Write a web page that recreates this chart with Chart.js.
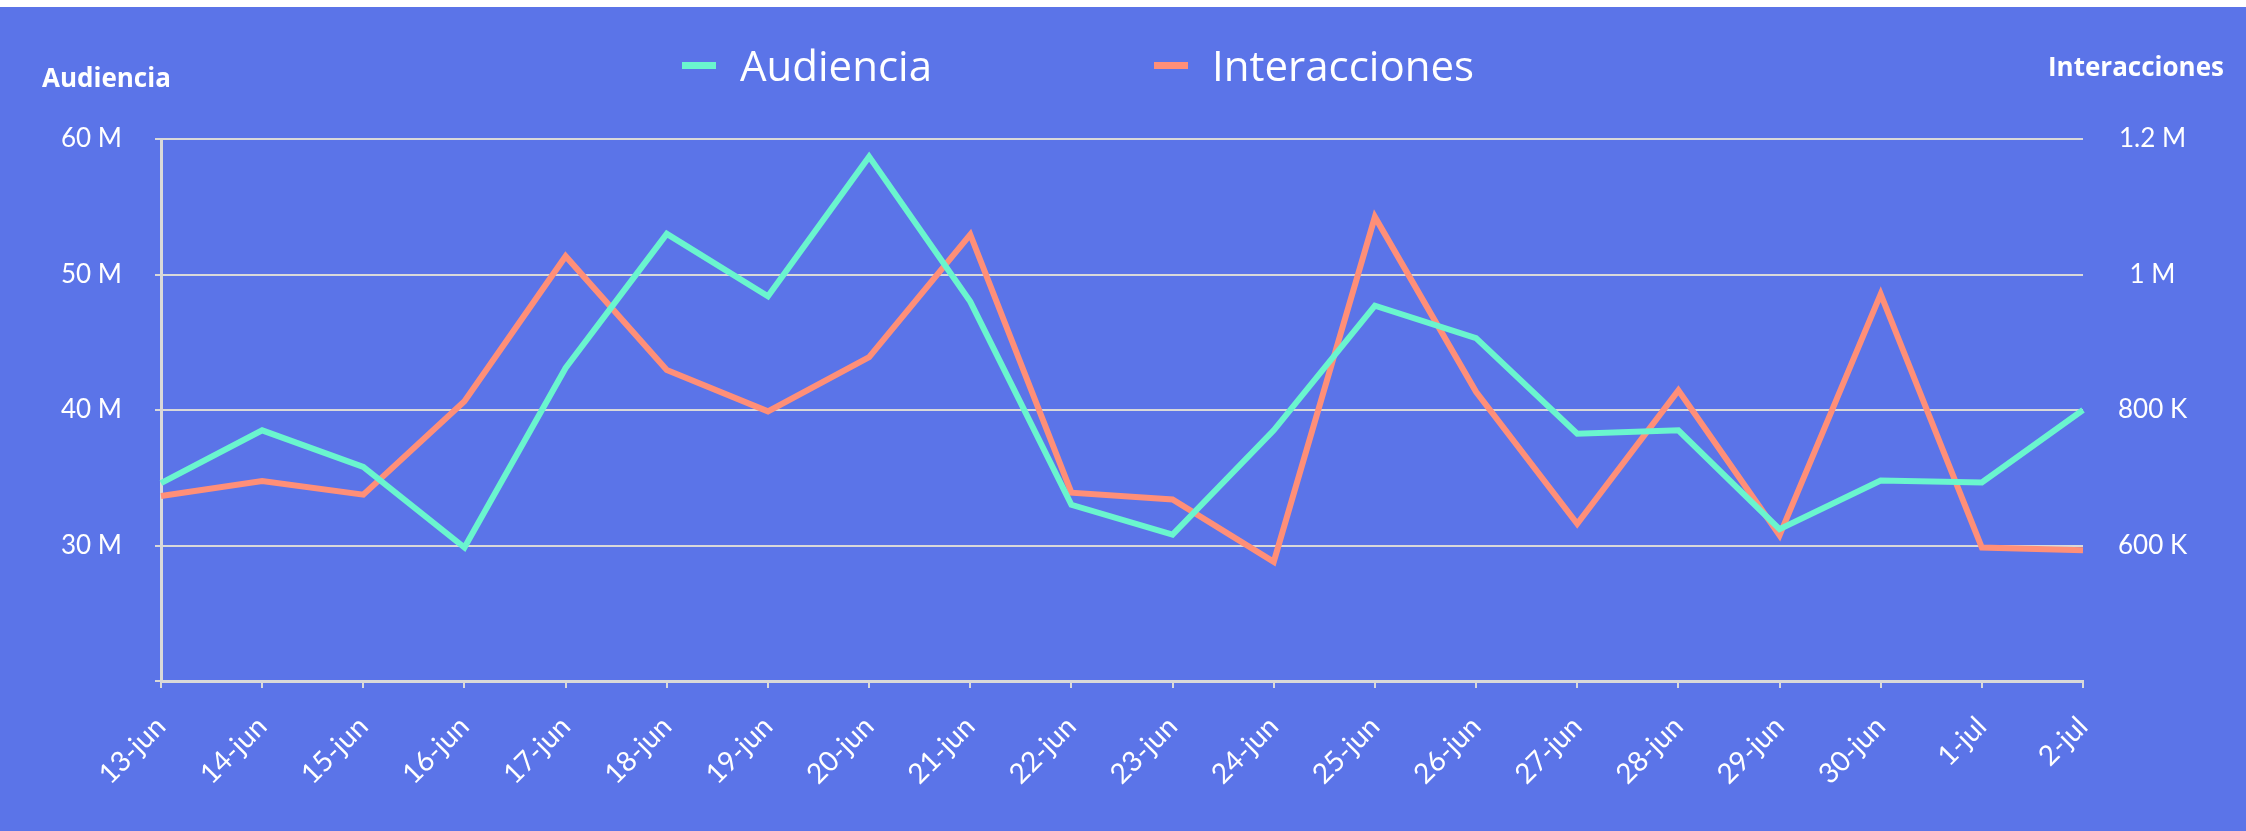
<!DOCTYPE html>
<html>
<head>
<meta charset="utf-8">
<script src="https://cdn.jsdelivr.net/npm/chart.js@4"></script>
<style>
  body { margin: 0; background: #fff; }
  #wrap { position: absolute; left: 0; top: 7px; width: 2246px; height: 824px; background: #5b74e8; overflow: hidden; }
  #chart { position: absolute; left: 0; top: 0; }
  .axis-title { position: absolute; color: #fff; font: 700 26px/26px "Open Sans", sans-serif; }
  #legend { position: absolute; left: 682px; top: 37px; display: flex; align-items: center; color: #fff; font: 400 42px/42px "Open Sans", sans-serif; }
  #legend .item { display: flex; align-items: center; margin-right: 222px; }
  #legend .sw { width: 34px; height: 7px; margin-right: 24px; }
</style>
</head>
<body>
<div id="wrap">
  <canvas id="chart" width="2246" height="824"></canvas>
  <div class="axis-title" style="left:42px; top:57px;">Audiencia</div>
  <div class="axis-title" style="right:22px; top:46px;">Interacciones</div>
  <div id="legend"></div>
</div>
<script>
// fechas del eje x
const labels = ['13-jun','14-jun','15-jun','16-jun','17-jun','18-jun','19-jun','20-jun','21-jun','22-jun',
  '23-jun','24-jun','25-jun','26-jun','27-jun','28-jun','29-jun','30-jun','1-jul','2-jul'];

// audiencia en millones
const audienciaM = [34.6, 38.5, 35.8, 29.85, 43.1, 53.0, 48.4, 58.7, 48.0, 33.0,
  30.8, 38.5, 47.7, 45.3, 38.25, 38.5, 31.2, 34.8, 34.65, 40.0];

// interacciones en miles
const interaccionesK = [673, 695, 675, 813, 1027, 859, 798, 878, 1059, 678,
  668, 576, 1085, 827, 632, 829, 615, 971, 597, 593];

const seriesNames = ['Audiencia', 'Interacciones'];
const seriesColors = ['#6af5ce', '#ff8f78'];

const GRID = '#d9d9d9';
const tickFont = { family: 'Lato', size: 26 };

// legend in html (wide spacing between items)
const legendEl = document.getElementById('legend');
seriesNames.forEach((name, i) => {
  const item = document.createElement('div');
  item.className = 'item';
  item.innerHTML = `<span class="sw" style="background:${seriesColors[i]}"></span><span>${name}</span>`;
  legendEl.appendChild(item);
});

const ctx = document.getElementById('chart').getContext('2d');
new Chart(ctx, {
  type: 'line',
  data: {
    labels,
    datasets: [
      { label: seriesNames[0], data: audienciaM, yAxisID: 'y', borderColor: seriesColors[0], backgroundColor: seriesColors[0],
        borderWidth: 6, pointRadius: 0, tension: 0, borderJoinStyle: 'miter' },
      { label: seriesNames[1], data: interaccionesK, yAxisID: 'y1', borderColor: seriesColors[1], backgroundColor: seriesColors[1],
        borderWidth: 6, pointRadius: 0, tension: 0, borderJoinStyle: 'miter' }
    ]
  },
  options: {
    responsive: false,
    animation: false,
    devicePixelRatio: 1,
    layout: { padding: { top: 132, left: 0, right: 0, bottom: 0 } },
    plugins: { legend: { display: false }, tooltip: { enabled: false } },
    scales: {
      x: {
        grid: { drawOnChartArea: false, drawTicks: true, tickLength: 7, color: GRID, lineWidth: 2 },
        border: { color: GRID, width: 3 },
        ticks: { color: '#fff', font: { family: 'Lato', size: 28 }, minRotation: 45, maxRotation: 45, autoSkip: false, padding: 22 },
        afterFit: s => { s.height = 150; }
      },
      y: {
        position: 'left', min: 20, max: 60,
        grid: { color: GRID, lineWidth: 2, tickLength: 6 },
        border: { color: GRID, width: 3 },
        ticks: { stepSize: 10, color: '#fff', font: tickFont, padding: 33,
          callback: v => v === 20 ? '' : v + ' M' },
        afterFit: s => { s.width = 161; }
      },
      y1: {
        position: 'right', min: 400, max: 1200,
        grid: { display: false },
        border: { display: false },
        ticks: { stepSize: 200, color: '#fff', font: tickFont, padding: 27, crossAlign: 'center',
          callback: v => v === 400 ? '' : (v >= 1000 ? (v / 1000) + ' M' : v + ' K') },
        afterFit: s => { s.width = 163; }
      }
    }
  }
});
</script>
</body>
</html>
